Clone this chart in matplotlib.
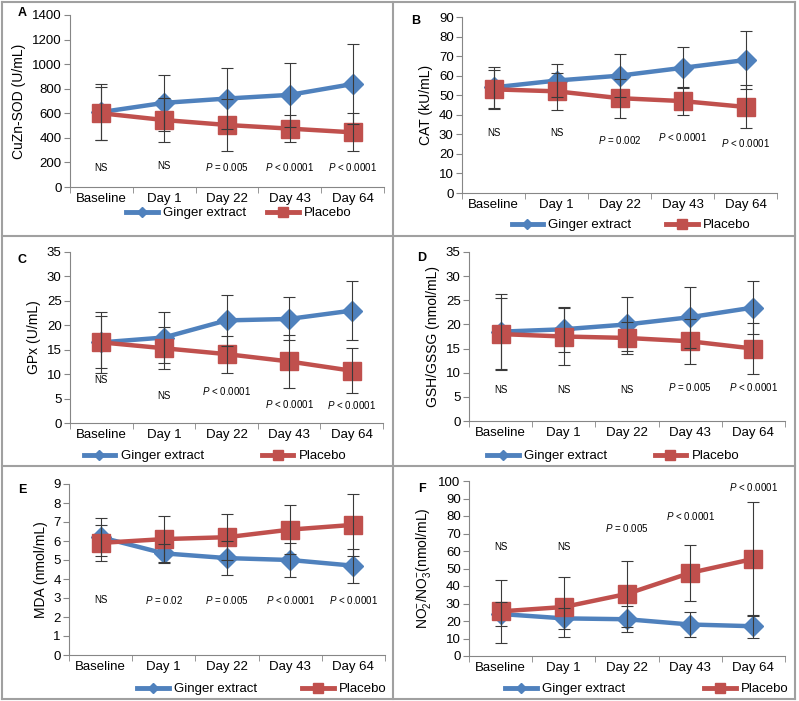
import numpy as np
import matplotlib
matplotlib.use('Agg')
import matplotlib.pyplot as plt
from matplotlib.lines import Line2D

plt.rcParams['font.family'] = ['Liberation Sans', 'DejaVu Sans']
plt.rcParams['mathtext.fontset'] = 'custom'
plt.rcParams['mathtext.rm'] = 'Liberation Sans'
plt.rcParams['mathtext.it'] = 'Liberation Sans:italic'

days = ['Baseline', 'Day 1', 'Day 22', 'Day 43', 'Day 64']

# A: CuZn-SOD
sod_ginger = [610, 685, 720, 750, 838]
sod_ginger_sd = [230, 230, 245, 260, 325]
sod_placebo = [600, 545, 505, 475, 445]
sod_placebo_sd = [215, 180, 210, 108, 155]
sod_p = ['NS', 'NS', 'P = 0.005', 'P < 0.0001', 'P < 0.0001']
sod_p_y = [155, 170, 163, 163, 163]

# B: CAT
cat_ginger = [54, 57.5, 60, 64, 68]
cat_ginger_sd = [10.5, 8.5, 11, 10.5, 15]
cat_placebo = [53, 52, 48.5, 47, 44]
cat_placebo_sd = [10, 9.5, 10, 7, 11]
cat_p = ['NS', 'NS', 'P = 0.002', 'P < 0.0001', 'P < 0.0001']
cat_p_y = [30.5, 30.5, 27, 28.5, 25.4]

# C: GPx
gpx_ginger = [16.5, 17.5, 21, 21.3, 23]
gpx_ginger_sd = [6.2, 5.2, 5.3, 4.4, 6]
gpx_placebo = [16.5, 15.3, 14.1, 12.6, 10.7]
gpx_placebo_sd = [5.3, 4.3, 3.8, 5.4, 4.6]
gpx_p = ['NS', 'NS', 'P < 0.0001', 'P < 0.0001', 'P < 0.0001']
gpx_p_y = [8.9, 5.6, 6.5, 3.9, 3.6]

# D: GSH/GSSG
gsh_ginger = [18.5, 19, 20, 21.5, 23.5]
gsh_ginger_sd = [7.7, 4.7, 5.6, 6.3, 5.5]
gsh_placebo = [18, 17.5, 17.2, 16.5, 15]
gsh_placebo_sd = [7.5, 5.8, 3.4, 4.6, 5.2]
gsh_p = ['NS', 'NS', 'NS', 'P = 0.005', 'P < 0.0001']
gsh_p_y = [6.4, 6.4, 6.4, 7.0, 7.0]

# E: MDA
mda_ginger = [6.2, 5.35, 5.1, 5.0, 4.7]
mda_ginger_sd = [1.0, 0.5, 0.9, 0.9, 0.9]
mda_placebo = [5.9, 6.1, 6.2, 6.6, 6.85]
mda_placebo_sd = [0.95, 1.2, 1.2, 1.3, 1.65]
mda_p = ['NS', 'P = 0.02', 'P = 0.005', 'P < 0.0001', 'P < 0.0001']
mda_p_y = [2.9, 2.9, 2.9, 2.9, 2.9]

# F: NO2-/NO3-
no_ginger = [24, 21.5, 21, 18, 17]
no_ginger_sd = [7, 6, 7.5, 7, 6.5]
no_placebo = [25.5, 28, 35.5, 47.5, 55.5]
no_placebo_sd = [18, 17, 19, 16, 32.5]
no_p = ['NS', 'NS', 'P = 0.005', 'P < 0.0001', 'P < 0.0001']
no_p_y = [62.3, 62.3, 73, 80, 96.5]

BLUE = '#4F81BD'
RED = '#C0504D'
W, H = 799, 701

fig = plt.figure(figsize=(W / 100, H / 100), dpi=100)

panels = [
    # letter, ginger, gsd, placebo, psd, ptext, py, ylabel, ymax, ystep,
    # axes box (l, r, bottom, top px), legend (cx, cy, colsp), letter pos
    ('A', sod_ginger, sod_ginger_sd, sod_placebo, sod_placebo_sd, sod_p, sod_p_y,
     'CuZn-SOD (U/mL)', 1400, 200, (70, 384, 187, 15), (239, 213, 1.6), (22, 13)),
    ('B', cat_ginger, cat_ginger_sd, cat_placebo, cat_placebo_sd, cat_p, cat_p_y,
     'CAT (kU/mL)', 90, 10, (462, 777, 193, 17), (631, 225, 2.6), (416, 21)),
    ('C', gpx_ginger, gpx_ginger_sd, gpx_placebo, gpx_placebo_sd, gpx_p, gpx_p_y,
     'GPx (U/mL)', 35, 5, (70, 383, 423, 252), (215, 456, 4.4), (22, 260)),
    ('D', gsh_ginger, gsh_ginger_sd, gsh_placebo, gsh_placebo_sd, gsh_p, gsh_p_y,
     'GSH/GSSG (nmol/mL)', 35, 5, (469, 785, 421, 252), (613, 456, 3.6), (422, 258)),
    ('E', mda_ginger, mda_ginger_sd, mda_placebo, mda_placebo_sd, mda_p, mda_p_y,
     'MDA (nmol/mL)', 9, 1, (69, 385, 655, 484), (262, 689, 3.4), (22, 490)),
    ('F', no_ginger, no_ginger_sd, no_placebo, no_placebo_sd, no_p, no_p_y,
     r'NO$_2^{-}$/NO$_3^{-}$(nmol/mL)', 100, 10, (469, 785, 656, 481), (647, 689, 6.0), (422, 489)),
]

x = np.arange(len(days))
for (letter, g, gsd, p, psd, ptxt, py, ylab, ymax, ystep,
     (l, r, b, t), (lcx, lcy, colsp), (lx, ly)) in panels:
    ax = fig.add_axes([l / W, 1 - b / H, (r - l) / W, (b - t) / H])
    ax.plot(x, g, color=BLUE, lw=3.2, marker='D', ms=10, zorder=3)
    ax.plot(x, p, color=RED, lw=3.2, marker='s', ms=13, zorder=3)
    ax.errorbar(x, g, yerr=gsd, fmt='none', ecolor='#3a3a3a', elinewidth=0.8,
                capsize=4, capthick=0.8, zorder=4)
    ax.errorbar(x, p, yerr=psd, fmt='none', ecolor='#3a3a3a', elinewidth=0.8,
                capsize=4, capthick=0.8, zorder=4)
    for xi, s, yi in zip(x, ptxt, py):
        if s.startswith('P'):
            s = r'$\it{P}$' + s[1:]
        ax.text(xi, yi, s, ha='center', va='center', fontsize=7)

    ax.set_xlim(-0.5, 4.5)
    ax.set_ylim(0, ymax)
    ax.set_yticks(np.arange(0, ymax + ystep / 2, ystep))
    ax.set_xticks(x)
    ax.set_xticklabels(days, fontsize=9.5)
    ax.tick_params(axis='x', length=0, pad=4)
    ax.set_xticks(np.arange(-0.5, 5, 1), minor=True)
    ax.tick_params(axis='x', which='minor', length=4, color='#868686')
    ax.tick_params(axis='y', labelsize=9.5, length=4, color='#868686', pad=2)
    for side in ['top', 'right']:
        ax.spines[side].set_visible(False)
    for side in ['left', 'bottom']:
        ax.spines[side].set_color('#868686')
    ax.set_ylabel(ylab, fontsize=10)
    ax.patch.set_alpha(0)

    handles = [Line2D([], [], color=BLUE, lw=3.5, marker='D', ms=5),
               Line2D([], [], color=RED, lw=3.5, marker='s', ms=7)]
    fig.legend(handles, ['Ginger extract', 'Placebo'], loc='center',
               bbox_to_anchor=(lcx / W, 1 - lcy / H), ncol=2, frameon=False,
               fontsize=9.5, handlelength=2.4, columnspacing=colsp,
               handletextpad=0.4, borderpad=0.1)
    fig.text(lx / W, 1 - ly / H, letter, fontsize=9, fontweight='bold',
             ha='center', va='center')

# panel frames
frame = dict(color='#a0a0a0', lw=1.5, transform=fig.transFigure)
for xs, ys in [((2, 795), (2, 2)), ((2, 795), (699, 699)), ((2, 2), (2, 699)),
               ((795, 795), (2, 699)), ((393, 393), (2, 699)),
               ((2, 795), (236, 236)), ((2, 795), (466, 466))]:
    fig.add_artist(Line2D([v / W for v in xs], [1 - v / H for v in ys], **frame))

fig.savefig('out.png', dpi=100)
